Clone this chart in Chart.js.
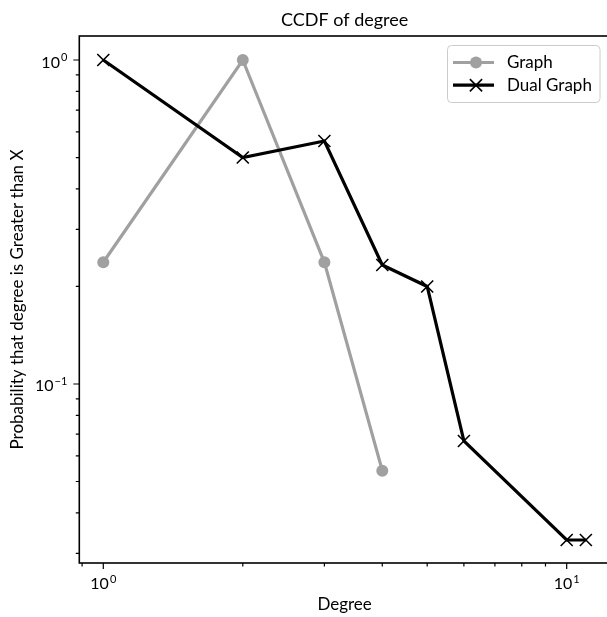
<!DOCTYPE html>
<html>
<head>
<meta charset="utf-8">
<script src="https://cdn.jsdelivr.net/npm/chart.js@4/dist/chart.umd.min.js"></script>
<style>
  html, body { margin: 0; padding: 0; background: #fff; overflow: hidden; }
  #ccdf { display: block; width: 612px; height: 617px; }
</style>
</head>
<body>
<canvas id="ccdf" width="612" height="617"></canvas>
<script>
// values
const degreeGraph = [ 1, 2, 3, 4 ];
const ccdfGraph = [ 0.2375, 1.0, 0.2375, 0.054 ];
const degreeDual = [ 1, 2, 3, 4, 5, 6, 10, 11 ];
const ccdfDual = [ 1.0, 0.5, 0.5625, 0.233, 0.2, 0.0667, 0.033, 0.033 ];

const xTickValues = [ 0.9, 1, 2, 3, 4, 5, 6, 7, 8, 9, 10 ];
const yTickValues = [ 0.03, 0.04, 0.05, 0.06, 0.07, 0.08, 0.09, 0.1, 0.2, 0.3, 0.4, 0.5, 0.6, 0.7, 0.8, 0.9, 1 ];
// decade labels as base + exponent (drawn like matplotlib mathtext)
const tickLabels = { 0.1: [ '10', '−1' ], 1: [ '10', '0' ], 10: [ '10', '1' ] };

const FONT = 'Lato, "DejaVu Sans", sans-serif';
const GRAY = '#a0a0a0';

const toPoints = ( xs, ys ) => xs.map( ( x, i ) => ( { x, y: ys[ i ] } ) );
const isMajor = v => Math.abs( Math.log10( v ) - Math.round( Math.log10( v ) ) ) < 1e-9;

function drawPow ( ctx, parts, x, baseline, align ) {
    ctx.font = '16px ' + FONT;
    const wb = ctx.measureText( parts[ 0 ] ).width;
    ctx.font = '11px ' + FONT;
    const we = ctx.measureText( parts[ 1 ] ).width + 1;
    const left = align === 'right' ? x - wb - we : x - ( wb + we ) / 2;
    ctx.textAlign = 'left';
    ctx.textBaseline = 'alphabetic';
    ctx.font = '16px ' + FONT;
    ctx.fillText( parts[ 0 ], left, baseline );
    ctx.font = '11px ' + FONT;
    ctx.fillText( parts[ 1 ], left + wb + 1, baseline - 6.5 );
}

// frame, tick marks, decade labels and the boxed legend, matplotlib style
const frameAndLegend = {
    id: 'frameAndLegend',
    afterDraw ( chart ) {
        const { ctx, chartArea: a } = chart;
        const sx = chart.scales.x, sy = chart.scales.y;
        ctx.save();
        ctx.strokeStyle = '#000';
        ctx.fillStyle = '#000';
        ctx.lineWidth = 1.2;
        ctx.beginPath();
        for ( const t of sx.ticks ) {
            const px = sx.getPixelForValue( t.value );
            const len = isMajor( t.value ) ? 6 : 3.5;
            ctx.moveTo( px, a.bottom ); ctx.lineTo( px, a.bottom + len );
            if ( tickLabels[ t.value ] ) drawPow( ctx, tickLabels[ t.value ], px, a.bottom + 26, 'center' );
        }
        for ( const t of sy.ticks ) {
            const py = sy.getPixelForValue( t.value );
            const len = isMajor( t.value ) ? 6 : 3.5;
            ctx.moveTo( a.left, py ); ctx.lineTo( a.left - len, py );
            if ( tickLabels[ t.value ] ) drawPow( ctx, tickLabels[ t.value ], a.left - 12, py + 7.5, 'right' );
        }
        ctx.stroke();
        ctx.lineWidth = 1.6;
        ctx.strokeRect( a.left, a.top, a.right - a.left, a.bottom - a.top );

        // legend
        const bx = 447.5, by = 45.5, bw = 152.5, bh = 57;
        ctx.beginPath();
        ctx.roundRect( bx, by, bw, bh, 4 );
        ctx.fillStyle = 'rgba(255,255,255,0.8)';
        ctx.fill();
        ctx.strokeStyle = '#cccccc';
        ctx.lineWidth = 1;
        ctx.stroke();
        chart.data.datasets.forEach( ( ds, i ) => {
            const y = 62.5 + i * 22.7;
            ctx.strokeStyle = ds.borderColor;
            ctx.lineWidth = ds.borderWidth;
            ctx.beginPath(); ctx.moveTo( 453, y ); ctx.lineTo( 494, y ); ctx.stroke();
            if ( ds.pointStyle === 'circle' ) {
                ctx.fillStyle = ds.pointBackgroundColor;
                ctx.beginPath(); ctx.arc( 476, y, ds.pointRadius, 0, Math.PI * 2 ); ctx.fill();
            } else {
                const r = ds.pointRadius * 0.72;
                ctx.lineWidth = ds.pointBorderWidth;
                ctx.beginPath();
                ctx.moveTo( 476 - r, y - r ); ctx.lineTo( 476 + r, y + r );
                ctx.moveTo( 476 - r, y + r ); ctx.lineTo( 476 + r, y - r );
                ctx.stroke();
            }
            ctx.fillStyle = '#000';
            ctx.font = '17px ' + FONT;
            ctx.textAlign = 'left';
            ctx.textBaseline = 'middle';
            ctx.fillText( ds.label, 507, y );
        } );
        ctx.restore();
    }
};

new Chart( document.getElementById( 'ccdf' ), {
    type: 'line',
    data: {
        datasets: [ {
            label: 'Graph',
            data: toPoints( degreeGraph, ccdfGraph ),
            borderColor: GRAY,
            borderWidth: 3.2,
            pointStyle: 'circle',
            pointRadius: 6,
            pointBackgroundColor: GRAY,
            pointBorderWidth: 0,
            order: 2
        }, {
            label: 'Dual Graph',
            data: toPoints( degreeDual, ccdfDual ),
            borderColor: '#000',
            borderWidth: 3.2,
            pointStyle: 'crossRot',
            pointRadius: 8.5,
            pointBorderColor: '#000',
            pointBorderWidth: 1.6,
            order: 1
        } ]
    },
    options: {
        responsive: false,
        animation: false,
        layout: { autoPadding: false, padding: { top: 0, right: 2.1, bottom: 0, left: 0 } },
        scales: {
            x: {
                type: 'logarithmic',
                min: 0.8876,
                max: 12.395,
                afterBuildTicks: s => { s.ticks = xTickValues.map( v => ( { value: v } ) ); },
                afterFit: s => { s.height = 54; s.paddingLeft = 0; s.paddingRight = 0; },
                grid: { display: false },
                border: { display: false },
                ticks: { display: false, autoSkip: false },
                title: {
                    display: true,
                    text: 'Degree',
                    color: '#000',
                    font: { family: FONT, size: 17 },
                    padding: { top: 0, bottom: 1.8 }
                }
            },
            y: {
                type: 'logarithmic',
                min: 0.02802,
                max: 1.186,
                afterBuildTicks: s => { s.ticks = yTickValues.map( v => ( { value: v } ) ); },
                afterFit: s => { s.width = 79.3; s.paddingTop = 0; s.paddingBottom = 0; },
                grid: { display: false },
                border: { display: false },
                ticks: { display: false, autoSkip: false },
                title: {
                    display: true,
                    text: 'Probability that degree is Greater than X',
                    color: '#000',
                    font: { family: FONT, size: 17 },
                    padding: { top: 7.2, bottom: 0 }
                }
            }
        },
        plugins: {
            legend: { display: false },
            tooltip: { enabled: false },
            title: {
                display: true,
                fullSize: false,
                text: 'CCDF of degree',
                color: '#000',
                font: { family: FONT, size: 18, weight: 'normal' },
                padding: { top: 9.5, bottom: 4.9 }
            }
        }
    },
    plugins: [ frameAndLegend ]
} );
</script>
</body>
</html>
